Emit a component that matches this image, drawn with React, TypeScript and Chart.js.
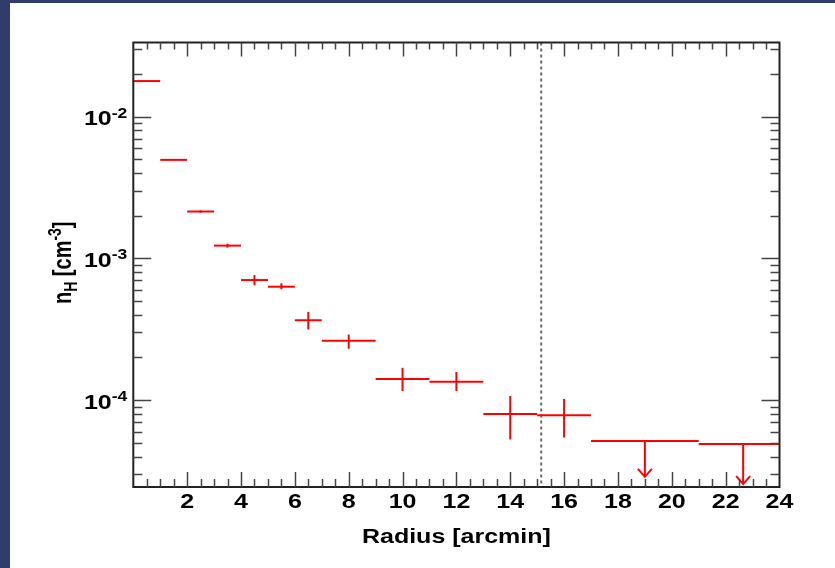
import React, { useEffect, useRef } from "react";
import { Chart, registerables } from "chart.js";

Chart.register(...registerables);

// ---- data ----
const binLow = [0, 1, 2, 3, 4, 5, 6, 7, 9, 11, 13, 15, 17, 21];
const binHigh = [1, 2, 3, 4, 5, 6, 7, 9, 11, 13, 15, 17, 21, 24];
const binCenter = [0.5, 1.5, 2.5, 3.5, 4.5, 5.5, 6.5, 8, 10, 12, 14, 16, 19, 22.65];
const nH = [1.78e-2, 4.95e-3, 2.14e-3, 1.23e-3, 7.03e-4, 6.31e-4, 3.66e-4, 2.62e-4, 1.41e-4, 1.35e-4, 7.97e-5, 7.83e-5, 5.16e-5, 4.9e-5];
const nHErrHigh = [null, 4.98e-3, 2.18e-3, 1.27e-3, 7.62e-4, 6.67e-4, 4.19e-4, 2.9e-4, 1.69e-4, 1.58e-4, 1.07e-4, 1.02e-4, null, null];
const nHErrLow = [null, 4.92e-3, 2.1e-3, 1.19e-3, 6.46e-4, 6.05e-4, 3.15e-4, 2.31e-4, 1.16e-4, 1.16e-4, 5.28e-5, 5.45e-5, null, null];
const upperLimitTip = [null, null, null, null, null, null, null, null, null, null, null, null, 2.88e-5, 2.56e-5];
const markerRadius = 15.15;

const xRange = [0, 24];
const yRange = [2.44e-5, 3.33e-2];
const xMajorTicks = [2, 4, 6, 8, 10, 12, 14, 16, 18, 20, 22, 24];
const xMajorLabels = ["2", "4", "6", "8", "10", "12", "14", "16", "18", "20", "22", "24"];
const yMajorTicks = [1e-4, 1e-3, 1e-2];
const yMajorExponents = ["-4", "-3", "-2"];
const xTitle = "Radius [arcmin]";

const FONT = '"Liberation Sans", Arial, Helvetica, sans-serif';
const SX = 1.25;

function textW(ctx: CanvasRenderingContext2D, t: string, size: number) {
  ctx.font = `bold ${size}px ${FONT}`;
  return ctx.measureText(t).width * SX;
}

function drawTxt(ctx: CanvasRenderingContext2D, t: string, x: number, y: number, size: number) {
  ctx.save();
  ctx.font = `bold ${size}px ${FONT}`;
  ctx.textAlign = "left";
  ctx.textBaseline = "alphabetic";
  ctx.translate(x, y);
  ctx.scale(SX, 1);
  ctx.fillText(t, 0, 0);
  ctx.restore();
}

const rootPlugin = {
  id: "rootStyle",
  afterDraw(chart: any) {
    const ctx: CanvasRenderingContext2D = chart.ctx;
    const xs = chart.scales.x;
    const ys = chart.scales.y;
    const { left, right, top, bottom } = chart.chartArea;
    ctx.save();

    // dotted marker line
    ctx.strokeStyle = "#6a6a6a";
    ctx.lineWidth = 2;
    ctx.setLineDash([3, 3]);
    const vx = xs.getPixelForValue(markerRadius);
    ctx.beginPath();
    ctx.moveTo(vx, top);
    ctx.lineTo(vx, bottom);
    ctx.stroke();
    ctx.setLineDash([]);

    // data: error crosses & upper limits
    ctx.strokeStyle = "#ff0000";
    ctx.lineWidth = 2;
    for (let i = 0; i < nH.length; i++) {
      const y = ys.getPixelForValue(nH[i]);
      ctx.beginPath();
      ctx.moveTo(xs.getPixelForValue(binLow[i]), y);
      ctx.lineTo(xs.getPixelForValue(binHigh[i]), y);
      ctx.stroke();
      const cx = xs.getPixelForValue(binCenter[i]);
      const hi = nHErrHigh[i];
      const lo = nHErrLow[i];
      if (hi != null && lo != null) {
        ctx.beginPath();
        ctx.moveTo(cx, ys.getPixelForValue(hi));
        ctx.lineTo(cx, ys.getPixelForValue(lo));
        ctx.stroke();
      }
      const tip = upperLimitTip[i];
      if (tip != null) {
        const ty = ys.getPixelForValue(tip);
        ctx.beginPath();
        ctx.moveTo(cx, y);
        ctx.lineTo(cx, ty);
        ctx.moveTo(cx - 7, ty - 8);
        ctx.lineTo(cx, ty);
        ctx.lineTo(cx + 7, ty - 8);
        ctx.stroke();
      }
    }

    // frame
    ctx.strokeStyle = "#222";
    ctx.lineWidth = 2;
    ctx.strokeRect(left, top, right - left, bottom - top);

    // ticks
    ctx.strokeStyle = "#444";
    ctx.lineWidth = 1.5;
    ctx.beginPath();
    for (let v = xRange[0] + 0.5; v < xRange[1]; v += 0.5) {
      const major = Math.abs(v / 2 - Math.round(v / 2)) < 1e-6;
      const px = Math.round(xs.getPixelForValue(v)) + 0.5;
      const lb = major ? 15 : 8;
      const lt = major ? 14 : 7;
      ctx.moveTo(px, bottom);
      ctx.lineTo(px, bottom - lb);
      ctx.moveTo(px, top);
      ctx.lineTo(px, top + lt);
    }
    for (let d = -5; d <= -1; d++) {
      for (let m = 1; m <= 9; m++) {
        const v = m * Math.pow(10, d);
        if (v <= yRange[0] || v >= yRange[1]) continue;
        const py = Math.round(ys.getPixelForValue(v)) + 0.5;
        const len = m === 1 ? 18 : 9;
        ctx.moveTo(left, py);
        ctx.lineTo(left + len, py);
        ctx.moveTo(right, py);
        ctx.lineTo(right - len, py);
      }
    }
    ctx.stroke();

    // labels
    ctx.fillStyle = "#000";
    for (let i = 0; i < xMajorTicks.length; i++) {
      const px = xs.getPixelForValue(xMajorTicks[i]);
      const w = textW(ctx, xMajorLabels[i], 20);
      drawTxt(ctx, xMajorLabels[i], px - w / 2, bottom + 21, 20);
    }
    for (let i = 0; i < yMajorTicks.length; i++) {
      const py = ys.getPixelForValue(yMajorTicks[i]);
      const w10 = textW(ctx, "10", 20);
      const we = textW(ctx, yMajorExponents[i], 14);
      const x0 = left - 6 - w10 - we;
      drawTxt(ctx, "10", x0, py + 8.5, 20);
      drawTxt(ctx, yMajorExponents[i], x0 + w10, py + 1, 14);
    }
    // x title
    const tw = textW(ctx, xTitle, 20);
    drawTxt(ctx, xTitle, (left + right) / 2 - tw / 2, bottom + 56, 20);

    // y title: n_H [cm^-3], rotated
    ctx.save();
    ctx.translate(61, (top + bottom) / 2 - 2);
    ctx.rotate(-Math.PI / 2);
    ctx.scale(1, 1.25);
    const parts: [string, number, number][] = [
      ["n", 20, 0],
      ["H", 14, 5],
      [" [cm", 20, 0],
      ["-3", 14, -8],
      ["]", 20, 0],
    ];
    let total = 0;
    for (const p of parts) {
      ctx.font = `bold ${p[1]}px ${FONT}`;
      total += ctx.measureText(p[0]).width;
    }
    let cx = -total / 2;
    ctx.textBaseline = "alphabetic";
    for (const p of parts) {
      ctx.font = `bold ${p[1]}px ${FONT}`;
      ctx.fillText(p[0], cx, p[2]);
      cx += ctx.measureText(p[0]).width;
    }
    ctx.restore();

    ctx.restore();
  },
};

export default function App() {
  const ref = useRef<HTMLCanvasElement | null>(null);
  useEffect(() => {
    if (!ref.current) return;
    const chart = new Chart(ref.current, {
      type: "scatter",
      data: {
        datasets: [
          {
            label: "nH",
            data: binCenter.map((x, i) => ({ x, y: nH[i] })),
            pointRadius: 0,
            showLine: false,
          },
        ],
      },
      options: {
        responsive: false,
        animation: false,
        devicePixelRatio: 1,
        layout: { padding: { left: 123.3, right: 55.5, top: 39.5, bottom: 81 } },
        plugins: { legend: { display: false }, tooltip: { enabled: false } },
        scales: {
          x: { type: "linear", min: xRange[0], max: xRange[1], display: false },
          y: { type: "logarithmic", min: yRange[0], max: yRange[1], display: false },
        },
      },
      plugins: [rootPlugin],
    } as any);
    return () => chart.destroy();
  }, []);
  return (
    <div style={{ position: "fixed", left: 0, top: 0, width: 835, height: 568, background: "#2f3c6c" }}>
      <canvas
        ref={ref}
        width={825}
        height={565}
        style={{ position: "absolute", left: 10, top: 3, width: 825, height: 565, background: "#fff" }}
      />
    </div>
  );
}
